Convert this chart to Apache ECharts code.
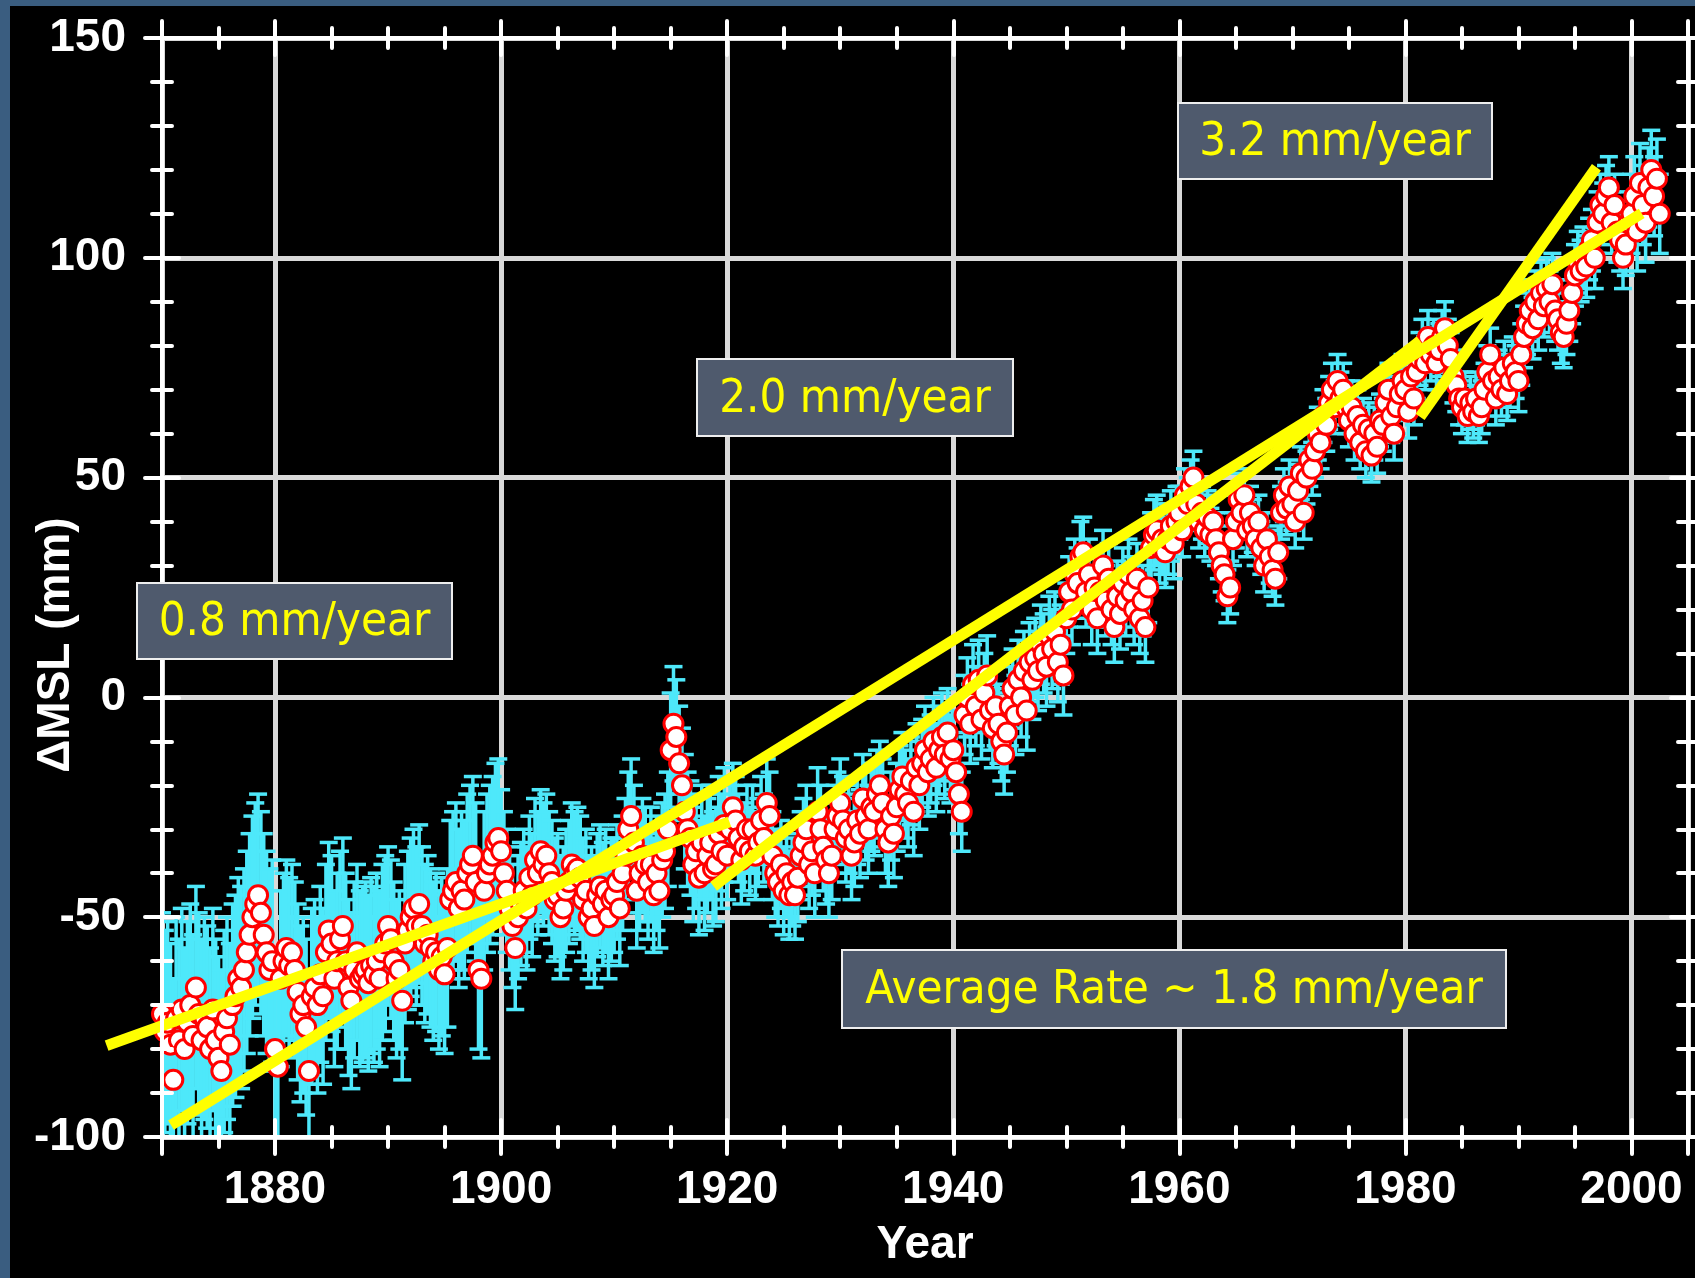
<!DOCTYPE html>
<html>
<head>
<meta charset="utf-8">
<title>Mean sea level 1870-2002</title>
<script src="https://cdn.jsdelivr.net/npm/echarts@6/dist/echarts.min.js"></script>
<style>
  html, body { margin: 0; padding: 0; background: #000; }
  #chart { width: 1695px; height: 1278px; }
</style>
</head>
<body>
<div id="chart"></div>
<script>
var firstYear = 1870;
var stepYear = 0.25;
var msl = [
  -72, -76, -74, -79,   -87, -73, -78, -71,   -80, -74, -70, -77,   -66, -72, -78, -73,   -75, -80, -71, -78,
  -82, -85, -76, -73,   -79, -70, -68, -64,   -66, -62, -58, -54,   -50, -47, -45, -49,   -54, -58, -62, -60,
  -80, -84, -64, -60,   -57, -61, -58, -62,   -67, -72, -70, -75,   -85, -68, -66, -70,   -63, -68, -58, -53,
  -56, -64, -60, -55,   -52, -60, -66, -69,   -62, -58, -64, -63,   -62, -65, -61, -63,   -60, -64, -58, -56,
  -52, -55, -60, -64,   -62, -69, -56, -53,   -50, -48, -52, -47,   -52, -56, -54, -57,   -60, -58, -62, -59,
  -63, -57, -46, -44,   -42, -48, -44, -46,   -40, -38, -36, -42,   -62, -64, -44, -40,   -38, -36, -33, -32,
  -35, -40, -44, -48,   -52, -57, -50, -47,   -44, -48, -41, -45,   -37, -40, -35, -38,   -36, -40, -42, -46,
  -45, -50, -48, -44,   -42, -38, -40, -39,   -41, -46, -44, -50,   -48, -52, -45, -43,   -47, -44, -50, -46,
  -45, -42, -48, -40,   -36, -30, -27, -33,   -44, -40, -36, -38,   -42, -38, -45, -40,   -44, -37, -35, -30,
  -12, -6, -9, -15,     -20, -26, -30, -32,   -38, -35, -41, -33,   -40, -36, -33, -39,   -38, -31, -35, -29,
  -36, -30, -25, -28,   -32, -37, -34, -30,   -35, -30, -36, -33,   -28, -32, -24, -27,   -36, -40, -42, -38,
  -44, -40, -45, -42,   -45, -41, -36, -33,   -30, -38, -35, -40,   -26, -30, -34, -37,   -40, -36, -30, -27,
  -24, -28, -32, -30,   -36, -33, -28, -31,   -23, -27, -30, -25,   -26, -22, -20, -24,   -30, -33, -27, -31,
  -25, -21, -18, -22,   -24, -19, -26, -16,   -20, -15, -12, -17,   -14, -10, -16, -12,   -9, -13, -8, -14,
  -12, -17, -22, -26,   -4, 0, -6, 3,         -2, 4, -5, 1,         5, -3, -7, -2,        -6, -10, -13, -8,
  -2, 2, -4, 4,         0, 6, -3, 8,          4, 9, 6, 12,          10, 7, 14, 11,        15, 8, 12, 5,
  18, 24, 20, 28,       26, 32, 33, 24,       28, 20, 25, 18,       24, 30, 22, 27,       20, 16, 23, 19,
  26, 22, 28, 24,       20, 27, 18, 22,       16, 25, 34, 37,       38, 34, 36, 33,       36, 39, 35, 40,
  42, 38, 46, 44,       48, 50, 44, 40,       42, 38, 41, 37,       40, 36, 33, 30,       28, 23, 25, 36,
  40, 45, 42, 46,       38, 42, 39, 36,       40, 34, 30, 36,       32, 29, 27, 33,       42, 46, 43, 48,
  44, 40, 47, 51,       42, 50, 54, 52,       56, 60, 58, 64,       62, 67, 70, 66,       72, 68, 70, 66,
  63, 66, 60, 64,       58, 62, 56, 61,       55, 60, 57, 63,       62, 67, 70, 64,       60, 66, 69, 72,
  70, 65, 73, 68,       74, 77, 80, 76,       82, 78, 80, 76,       79, 82, 84, 80,       77, 73, 71, 68,
  66, 68, 64, 67,       65, 68, 64, 66,       70, 74, 78, 72,       68, 73, 70, 75,       69, 72, 76, 74,
  72, 78, 82, 85,       88, 84, 90, 86,       92, 89, 93, 90,       94, 88, 86, 83,       82, 85, 88, 92,
  96, 99, 97, 100,      98, 102, 104, 100,    108, 112, 110, 114,   116, 108, 112, 106,   104, 100, 103, 108,
  110, 114, 106, 117,   112, 108, 116, 120,   114, 118, 110
];

// Half length of the error bars (mm), one value per decade starting 1870.
var errDecadeStart = 1870;
var errByDecade = [23, 20, 18, 14, 13, 10, 10, 9, 8, 6, 6, 6, 7, 9];

// Fitted trend segments [year, mm, year, mm].
var trend08 = [1865.1, -79.2, 1920.2, -28.3];
var trendAvg = [1870.8, -97.3, 2000.9, 110.1];
var trend20 = [1918.8, -43.0, 1981.3, 81.1];
var trend32 = [1981.3, 63.8, 1996.9, 120.6];

var boxTexts = ['3.2 mm/year', '2.0 mm/year', '0.8 mm/year', 'Average Rate ~ 1.8 mm/year'];

var CYAN = '#4ee8fa';
var YELLOW = '#ffff00';
var WHITE = '#ffffff';
var GRIDC = '#d9d9d9';
var LABEL_FONT = '"Liberation Sans", Arial, sans-serif';
var BOX_FONT = '"DejaVu Sans Condensed", "DejaVu Sans", sans-serif';

var points = [];
var bars = [];
for (var i = 0; i < msl.length; i++) {
  var yr = firstYear + i * stepYear;
  var d = Math.floor((yr - errDecadeStart) / 10);
  if (d > errByDecade.length - 1) d = errByDecade.length - 1;
  points.push([yr, msl[i]]);
  bars.push([yr, msl[i], errByDecade[d]]);
}

var chart = echarts.init(document.getElementById('chart'), null, { renderer: 'canvas' });

function xAx(pos, opts) {
  var a = {
    type: 'value', position: pos, min: 1870, max: 2005,
    minInterval: 20, maxInterval: 20, z: 10,
    axisLine: { show: false, onZero: false },
    axisTick: { show: false },
    minorTick: { show: false },
    axisLabel: { show: false },
    splitLine: { show: false }
  };
  for (var k in opts) a[k] = opts[k];
  return a;
}
function yAx(pos, opts) {
  var a = {
    type: 'value', position: pos, min: -100, max: 150, interval: 50, z: 10,
    axisLine: { show: false, onZero: false },
    axisTick: { show: false },
    minorTick: { show: false },
    axisLabel: { show: false },
    splitLine: { show: false }
  };
  for (var k in opts) a[k] = opts[k];
  return a;
}
var lineSt = { show: true, onZero: false, lineStyle: { color: WHITE, width: 4 } };
function tk(inside) { return { show: true, inside: inside, length: 17, lineStyle: { color: WHITE, width: 4, cap: 'round' } }; }
function mtk(n) { return { show: true, splitNumber: n, length: 10, lineStyle: { color: WHITE, width: 4, cap: 'round' } }; }

var xAxes = [
  xAx('bottom', { z: 0, splitLine: { show: true, lineStyle: { color: GRIDC, width: 5 } } }),
  xAx('bottom', {
    axisLine: lineSt, axisTick: tk(false), minorTick: mtk(4),
    axisLabel: {
      show: true, margin: 30, color: WHITE, fontSize: 46, fontWeight: 'bold',
      fontFamily: LABEL_FONT, showMinLabel: false, showMaxLabel: false,
      formatter: function (v) { return String(v); }
    },
    name: 'Year', nameLocation: 'middle', nameGap: 85,
    nameTextStyle: { color: WHITE, fontSize: 46, fontWeight: 'bold', fontFamily: LABEL_FONT }
  }),
  xAx('bottom', { axisTick: tk(true), minorTick: mtk(4) }),
  xAx('top', { axisLine: lineSt, axisTick: tk(false), minorTick: mtk(4) }),
  xAx('top', { axisTick: tk(true), minorTick: mtk(4) })
];
var yAxes = [
  yAx('left', { z: 0, splitLine: { show: true, lineStyle: { color: GRIDC, width: 5 } } }),
  yAx('left', {
    axisLine: lineSt, axisTick: tk(false), minorTick: mtk(5),
    axisLabel: { show: true, margin: 36, color: WHITE, fontSize: 46, fontWeight: 'bold', fontFamily: LABEL_FONT }
  }),
  yAx('left', { axisTick: tk(true), minorTick: mtk(5) }),
  yAx('right', { axisLine: lineSt, axisTick: tk(false), minorTick: mtk(5) }),
  yAx('right', { axisTick: tk(true), minorTick: mtk(5) })
];

// annotation boxes (pixel layout)
var boxLayout = [
  { x: 1178, y: 103, w: 314, h: 76 },
  { x: 697, y: 359, w: 316, h: 77 },
  { x: 137, y: 583, w: 315, h: 76 },
  { x: 842, y: 950, w: 664, h: 78 }
];
var graphics = [
  { type: 'rect', left: 0, top: 0, shape: { width: 10, height: 1278 }, style: { fill: '#3a5d80' }, z: 20 },
  { type: 'rect', left: 0, top: 0, shape: { width: 1695, height: 6 }, style: { fill: '#3a5d80' }, z: 20 },
  {
    type: 'text', x: 56, y: 645, rotation: Math.PI / 2, z: 20,
    style: {
      text: '\u0394MSL (mm)', fill: WHITE, font: 'bold 46px ' + LABEL_FONT,
      textAlign: 'center', textVerticalAlign: 'middle'
    }
  }
];
for (var b = 0; b < boxLayout.length; b++) {
  var L = boxLayout[b];
  graphics.push({
    type: 'rect', x: L.x, y: L.y, z: 20,
    shape: { width: L.w, height: L.h },
    style: { fill: '#4f5a6d', stroke: '#eeeeee', lineWidth: 2 }
  });
  graphics.push({
    type: 'text', x: L.x + L.w / 2, y: L.y + L.h / 2 + 2, z: 21,
    style: {
      text: boxTexts[b], fill: YELLOW, font: '47px ' + BOX_FONT,
      textAlign: 'center', textVerticalAlign: 'middle'
    }
  });
}

chart.setOption({
  backgroundColor: '#000000',
  animation: false,
  grid: { left: 162, right: 7, top: 38, bottom: 141 },
  xAxis: xAxes,
  yAxis: yAxes,
  graphic: graphics,
  series: [
    {
      type: 'custom', data: bars, clip: true, silent: true, z: 3,
      renderItem: function (params, api) {
        var x = api.value(0), y = api.value(1), e = api.value(2);
        var top = api.coord([x, y + e]);
        var bot = api.coord([x, y - e]);
        var hw = 9;
        var st = { stroke: CYAN, lineWidth: 3.5 };
        return {
          type: 'group',
          children: [
            { type: 'line', shape: { x1: top[0], y1: top[1], x2: bot[0], y2: bot[1] }, style: st },
            { type: 'line', shape: { x1: top[0] - hw, y1: top[1], x2: top[0] + hw, y2: top[1] }, style: st },
            { type: 'line', shape: { x1: bot[0] - hw, y1: bot[1], x2: bot[0] + hw, y2: bot[1] }, style: st }
          ]
        };
      }
    },
    {
      type: 'scatter', data: points, symbol: 'circle', symbolSize: 19, silent: true, z: 4,
      itemStyle: { color: '#ffffff', borderColor: '#ff0000', borderWidth: 3, opacity: 1 }
    },
    {
      type: 'custom', data: [trend08, trendAvg, trend20, trend32], clip: false, silent: true, z: 6,
      renderItem: function (params, api) {
        var p1 = api.coord([api.value(0), api.value(1)]);
        var p2 = api.coord([api.value(2), api.value(3)]);
        return {
          type: 'line',
          shape: { x1: p1[0], y1: p1[1], x2: p2[0], y2: p2[1] },
          style: { stroke: YELLOW, lineWidth: 11, lineCap: 'butt' }
        };
      }
    }
  ]
});
</script>
</body>
</html>
